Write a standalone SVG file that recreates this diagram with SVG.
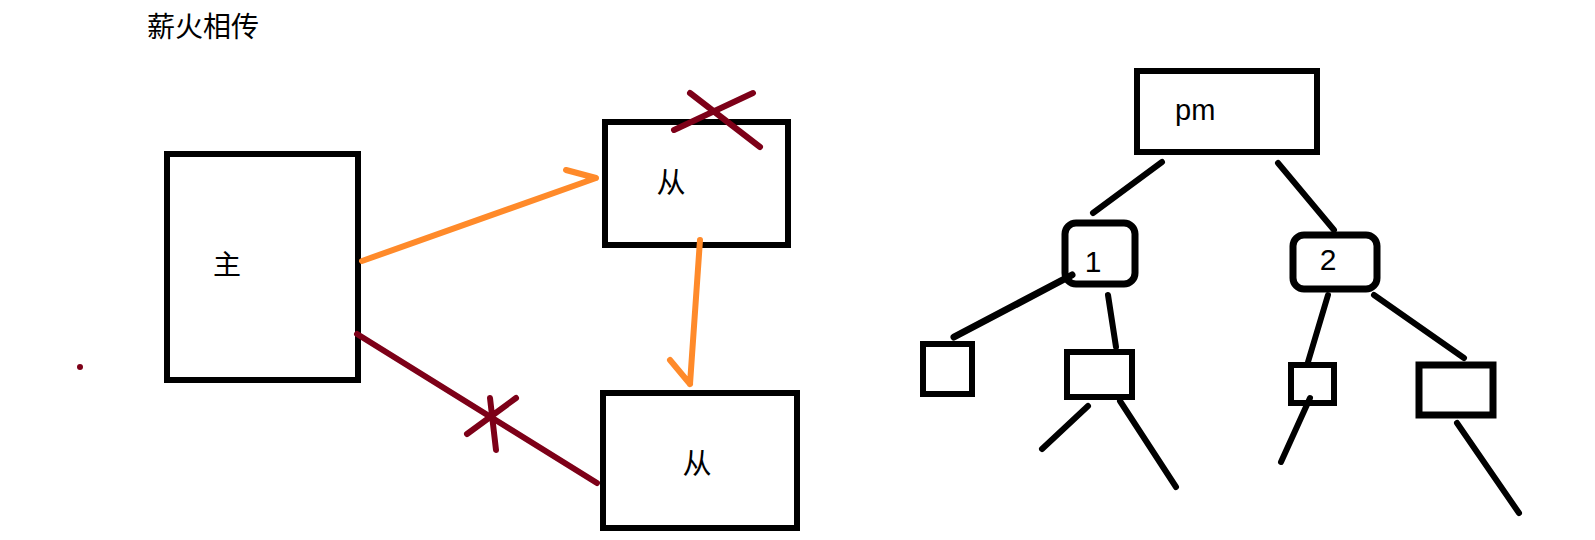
<svg xmlns="http://www.w3.org/2000/svg" width="1595" height="540" viewBox="0 0 1595 540">
<style>
.box{fill:#fff;stroke:#000;stroke-width:6}
.rbox{fill:#fff;stroke:#000;stroke-width:7}
.edge{stroke:#000;stroke-width:6;stroke-linecap:round;fill:none}
.org{stroke:#ff8a2a;stroke-width:6;stroke-linecap:round;fill:none}
.red{stroke:#7d0018;stroke-width:6;stroke-linecap:round;fill:none}
.cjk{font-family:"Noto Sans CJK SC",sans-serif;fill:#000}
.lat{font-family:"Liberation Sans",Arial,sans-serif;fill:#000}
</style>
<rect width="1595" height="540" fill="#fff"/>
<text class="cjk" x="147" y="37" font-size="28">薪火相传</text>
<circle cx="80" cy="367" r="3" fill="#7d0018"/>
<g id="master"><rect class="box" x="167" y="154" width="191" height="226"/><text class="cjk" x="227" y="275" font-size="28" text-anchor="middle">主</text></g>
<g id="slave1"><rect class="box" x="605" y="122" width="183" height="123"/><text class="cjk" x="671" y="193" font-size="29" text-anchor="middle">从</text></g>
<g id="slave2"><rect class="box" x="603" y="393" width="194" height="135"/><text class="cjk" x="697" y="474" font-size="29" text-anchor="middle">从</text></g>
<g id="pm"><rect class="box" x="1137" y="71" width="180" height="81"/><text class="lat" x="1175" y="120" font-size="29">pm</text></g>
<g id="n1"><rect class="rbox" x="1065" y="223" width="70" height="61" rx="11"/><text class="lat" x="1093" y="272" font-size="30" text-anchor="middle">1</text></g>
<g id="n2"><rect class="rbox" x="1293" y="235" width="84" height="54" rx="11"/><text class="lat" x="1328" y="270" font-size="30" text-anchor="middle">2</text></g>
<g id="leaf1"><rect class="box" x="923" y="344" width="49" height="50"/></g>
<g id="leaf2"><rect class="box" x="1067" y="352" width="65" height="45"/></g>
<g id="leaf3"><rect class="box" x="1291" y="365" width="43" height="38"/></g>
<g id="leaf4"><rect class="box" x="1419" y="365" width="74" height="50" style="stroke-width:7"/></g>
<g id="connectors">
<path class="org" d="M362 261L596 178M566 170L596 178"/>
<path class="org" d="M700 240L690 384M670 360L690 384"/>
<path class="red" d="M357 334L597 483"/>
<path class="red" d="M467 434L516 398M490 398L496 450"/>
<path class="red" d="M674 130L753 93M690 93L760 147"/>
<path class="edge" d="M1162 162L1093 213"/>
<path class="edge" d="M1278 163L1334 230"/>
<path class="edge" d="M1072 275L954 337" style="stroke-width:7"/>
<path class="edge" d="M1108 295L1116 347"/>
<path class="edge" d="M1088 406L1042 449"/>
<path class="edge" d="M1120 401L1176 487"/>
<path class="edge" d="M1328 295L1308 362"/>
<path class="edge" d="M1374 295L1464 358"/>
<path class="edge" d="M1310 398L1281 462"/>
<path class="edge" d="M1457 423L1519 513"/>
</g>
</svg>
